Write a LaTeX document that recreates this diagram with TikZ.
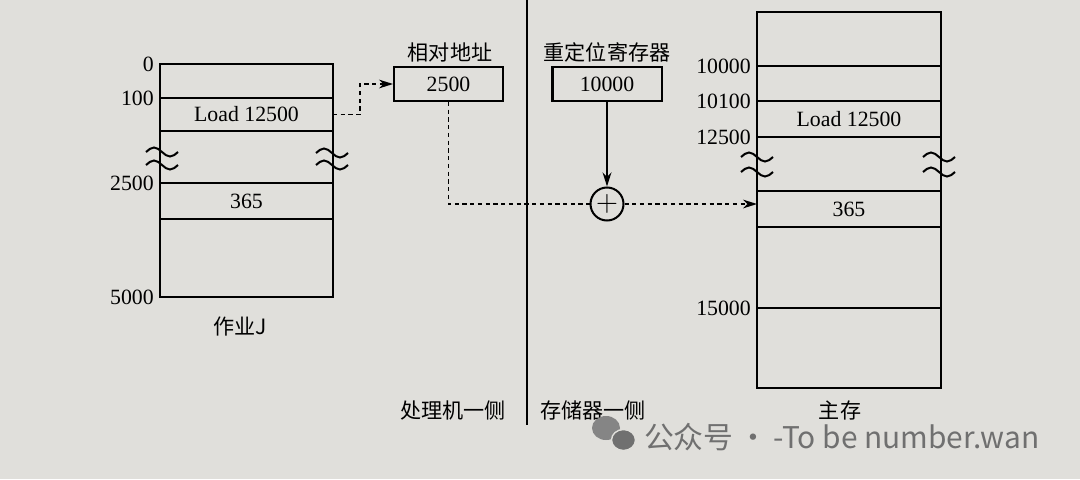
\documentclass[tikz,border=0pt]{standalone}
\usepackage{fontspec}
\setmainfont{Liberation Serif}
\newfontfamily\cjk{Noto Sans CJK SC}
\usetikzlibrary{arrows.meta}
\definecolor{paper}{RGB}{224,223,219}
\definecolor{wmgray}{RGB}{112,112,112}

\begin{document}
\begin{tikzpicture}[
font=\fontsize{12.4}{14}\selectfont,
line width=1.15pt,
cell/.style={draw,inner sep=0pt,outer sep=0pt,anchor=north},
jobcell/.style={cell,minimum width=3.46cm},
memcell/.style={cell,minimum width=3.68cm},
regbox/.style={draw,minimum width=2.18cm,minimum height=0.68cm,inner sep=0pt},
addr/.style={anchor=east,inner sep=3pt},
title/.style={font=\cjk\fontsize{12}{14}\selectfont},
dashline/.style={line width=0.9pt,dash pattern=on 2.4pt off 2pt},
dasharrow/.style={dashline,-{Stealth[length=8pt,width=5pt]}},
wm/.style={font=\cjk\fontsize{17}{19}\selectfont,text=wmgray,anchor=west,inner sep=0pt}
]
\fill[paper] (0,0) rectangle (21.6,-9.58);
\useasboundingbox (0,0) rectangle (21.6,-9.58);

% job J
\node[jobcell,minimum height=0.68cm] (j0) at (4.93,-1.28) {};
\node[jobcell,minimum height=0.66cm] (j1) at (j0.south) {Load 12500};
\node[jobcell,minimum height=0.72cm] (j2) at (4.93,-3.66) {365};
\node[jobcell,minimum height=1.56cm] (j3) at (j2.south) {};
\draw (j1.south west) -- (j2.north west) (j1.south east) -- (j2.north east);
\node[addr] (a0) at (j0.north west) {0};
\node[addr] (a100) at (j1.north west) {100};
\node[addr] (a2500) at (j2.north west) {2500};
\node[addr] (a5000) at (j3.south west) {5000};
\node[title] (jname) at (4.8,-6.54) {作业J};

% main memory
\node[memcell,minimum height=1.08cm] (m0) at (16.98,-0.24) {};
\node[memcell,minimum height=0.70cm] (m1) at (m0.south) {};
\node[memcell,minimum height=0.72cm] (m2) at (m1.south) {Load 12500};
\node[memcell,minimum height=0.72cm] (m3) at (16.98,-3.82) {365};
\node[memcell,minimum height=1.62cm] (m4) at (m3.south) {};
\node[memcell,minimum height=1.60cm] (m5) at (m4.south) {};
\draw (m2.south west) -- (m3.north west) (m2.south east) -- (m3.north east);
\node[addr] (b10000) at (m1.north west) {10000};
\node[addr] (b10100) at (m2.north west) {10100};
\node[addr] (b12500) at (m2.south west) {12500};
\node[addr] (b15000) at (m5.north west) {15000};
\node[title] (mname) at (16.8,-8.2) {主存};

% break marks
\foreach \x/\y in {2.92/-3.04,2.92/-3.3,6.32/-3.06,6.32/-3.3,
                   14.82/-3.14,14.82/-3.44,18.46/-3.14,18.46/-3.44}
  \draw (\x,\y) sin ++(0.16,0.09) cos ++(0.16,-0.09) sin ++(0.16,-0.09) cos ++(0.16,0.09);

% registers
\node[title] (reltitle) at (9.0,-1.04) {相对地址};
\node[regbox] (rel) at (8.97,-1.68) {2500};
\node[title] (regtitle) at (12.14,-1.04) {重定位寄存器};
\node[regbox] (reg) at (12.14,-1.68) {10000};
\node[circle,draw,minimum size=0.66cm,inner sep=0pt] (adder) at (12.14,-4.08) {\fontsize{16}{16}\selectfont$+$};

% processor / memory side
\coordinate (dtop) at (10.54,0);
\coordinate (dbot) at (10.54,-8.5);
\draw (dtop) -- (dbot);
\node[title] (cpu) at (9.06,-8.2) {处理机一侧};
\node[title] (mem) at (11.86,-8.2) {存储器一侧};

% address path
\draw[dasharrow] (j1.east) -- ++(0.54,0) |- (rel.west);
\draw[dashline] (rel.south) |- (adder.west);
\draw[-{Stealth[length=8pt,width=5pt]}] (reg.south) -- (adder.north);
\draw[dasharrow] (adder.east) -- (adder.east -| m3.west);

% watermark
\fill[wmgray!85] (12.12,-8.56) ellipse (0.28 and 0.24);
\fill[wmgray,draw=paper,line width=0.8pt] (12.47,-8.8) ellipse (0.24 and 0.21);
\node[wm] (wmtext) at (12.86,-8.74) {公众号\,·\,-To be number.wan};
\end{tikzpicture}
\end{document}
